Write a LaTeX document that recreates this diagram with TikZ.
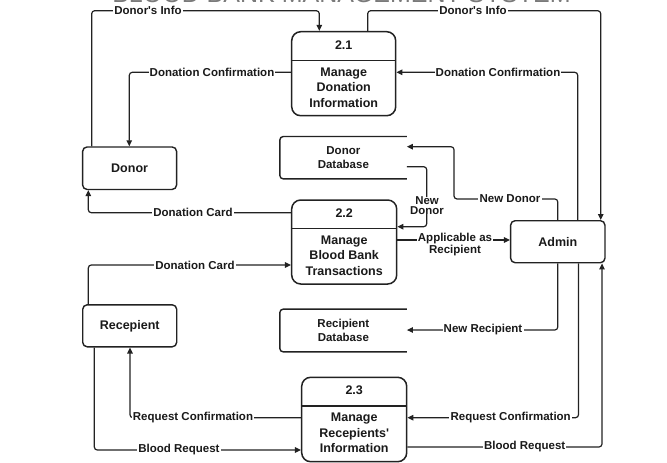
\documentclass[tikz,border=0pt]{standalone}
\usepackage{fontspec}
\setmainfont{Liberation Sans}
\usetikzlibrary{arrows.meta,calc}
\definecolor{linec}{HTML}{222222}
\definecolor{txtc}{HTML}{1A1A1A}
\definecolor{ttlc}{HTML}{7A7A7A}
\newcommand\lblfont{\fontsize{11.5}{11}\selectfont\bfseries}
\newcommand\boxfont{\fontsize{12.5}{15.5}\selectfont\bfseries}
\newcommand\dbfont{\fontsize{11.5}{14}\selectfont\bfseries}
\newcommand\sq{\textquotesingle}
\tikzset{
  proc/.style={draw=linec, line width=1.5pt, rounded corners=9pt, minimum width=104pt, minimum height=84pt, inner sep=0pt},
  ent/.style={draw=linec, line width=1.4pt, rounded corners=4.5pt, minimum width=94pt, minimum height=42pt, inner sep=0pt, font=\boxfont, text=txtc},
  dbarea/.style={minimum width=126.7pt, minimum height=42pt, inner sep=0pt, align=center, font=\dbfont, text=txtc},
  dbline/.style={draw=linec, line width=1.4pt, rounded corners=3.5pt},
  hline/.style={draw=linec, line width=1.4pt},
  ptext/.style={align=center, font=\boxfont, text=txtc, inner sep=0pt},
  flow/.style={draw=linec, line width=1.2pt, rounded corners=3pt, -{Triangle[length=6pt,width=5.5pt]}},
  lbl/.style={fill=white, font=\lblfont, text=txtc, inner xsep=1.2pt, inner ysep=0.5pt, align=center},
  ttl/.style={font=\fontsize{25}{25}\selectfont, text=ttlc, inner sep=0pt}
}
\begin{document}
\begin{tikzpicture}[x=1pt,y=-1pt]
\useasboundingbox[fill=white] (0,0) rectangle (667,463);
% title (cut off at the top edge)
\begin{scope}
\clip (0,0) rectangle (667,463);
\node[ttl, anchor=base] (title) at (341.5,2.6) {BLOOD BANK MANAGEMENT SYSTEM};
\end{scope}

% processes
\node[proc] (p1) at (343.7,73.7) {};
\node[proc, minimum width=105pt] (p2) at (344.2,242) {};
\node[proc, minimum width=105pt, minimum height=84.4pt] (p3) at (354.2,419.5) {};
\draw[hline] (p1.west |- 0,60.7) -- (p1.east |- 0,60.7);
\draw[hline] (p2.west |- 0,228.7) -- (p2.east |- 0,228.7);
\draw[hline] (p3.west |- 0,406) -- (p3.east |- 0,406);
\node[ptext] (p1n) at (343.7,45.5) {2.1};
\node[ptext] (p1t) at (343.7,87.5) {Manage\\Donation\\Information};
\node[ptext] (p2n) at (344.2,213) {2.2};
\node[ptext] (p2t) at (344.2,255.5) {Manage\\Blood Bank\\Transactions};
\node[ptext] (p3n) at (354.2,390.3) {2.3};
\node[ptext] (p3t) at (354.2,433) {Manage\\Recepients\sq\\Information};

% external entities
\node[ent, minimum height=42.5pt] (donor) at (129.6,168.2) {Donor};
\node[ent] (rec) at (129.7,325.8) {Recepient};
\node[ent, minimum width=94.3pt] (admin) at (557.8,241.7) {Admin};

% data stores
\node[dbarea] (ddb) at (343.35,157.7) {Donor\\Database};
\node[dbarea, minimum height=42.4pt] (rdb) at (343.35,330.5) {Recipient\\Database};
\draw[dbline] (ddb.north east) -- (ddb.north west) -- (ddb.south west) -- (ddb.south east);
\draw[dbline] (rdb.north east) -- (rdb.north west) -- (rdb.south west) -- (rdb.south east);

% connectors
\draw[flow] (91.7,0 |- donor.north) |- (319.3,10.7) -- (319.3,0 |- p1.north);
\draw[flow] (367.7,0 |- p1.north) |- (600.7,10.7) -- (600.7,0 |- admin.north);
\draw[flow] (p1.west |- 0,72.3) -- (129.3,72.3) -- (129.3,0 |- donor.north);
\draw[flow] (577.7,0 |- admin.north) |- (p1.east |- 0,72.3);
\draw[flow] (p2.west |- 0,212.7) -| (88.3,0 |- donor.south);
\draw[flow] (ddb.east |- 0,166.7) -- (426.7,166.7) -- (426.7,226.7) -- (p2.east |- 0,226.7);
\draw[flow] (557.8,0 |- admin.north) |- (454,199) |- (ddb.east |- 0,146.7);
\draw[flow] (p2.east |- 0,240) -- (admin.west |- 0,240);
\draw[flow] (557.8,0 |- admin.south) |- (rdb.east |- 0,330);
\draw[flow] (578.5,0 |- admin.south) |- (p3.east |- 0,417.7);
\draw[flow] (p3.east |- 0,447) -| (602,0 |- admin.south);
\draw[flow] (p3.west |- 0,417.7) -| (130,0 |- rec.south);
\draw[flow] (94.3,0 |- rec.south) |- (p3.west |- 0,450);
\draw[flow] (88.3,0 |- rec.north) |- (p2.west |- 0,265);

% connector labels
\node[lbl] (l1) at (148,10.7) {Donor\sq s Info};
\node[lbl] (l2) at (473,10.7) {Donor\sq s Info};
\node[lbl] (l3) at (212,72.3) {Donation Confirmation};
\node[lbl] (l4) at (498,72.3) {Donation Confirmation};
\node[lbl] (l5) at (193,212.7) {Donation Card};
\node[lbl, font=\fontsize{11.4}{9.8}\selectfont\bfseries, inner ysep=0pt] (l6) at (427,205.5) {New\\Donor};
\node[lbl] (l7) at (510,199) {New Donor};
\node[lbl, font=\fontsize{11.5}{9.2}\selectfont\bfseries, inner ysep=0pt] (l8) at (455,244.5) {Applicable as\\Recipient};
\node[lbl] (l9) at (483,330) {New Recipient};
\node[lbl] (l10) at (510.7,417.7) {Request Confirmation};
\node[lbl] (l11) at (524.7,447) {Blood Request};
\node[lbl] (l12) at (193,417.7) {Request Confirmation};
\node[lbl] (l13) at (179,450) {Blood Request};
\node[lbl] (l14) at (195,265) {Donation Card};
\end{tikzpicture}
\end{document}
